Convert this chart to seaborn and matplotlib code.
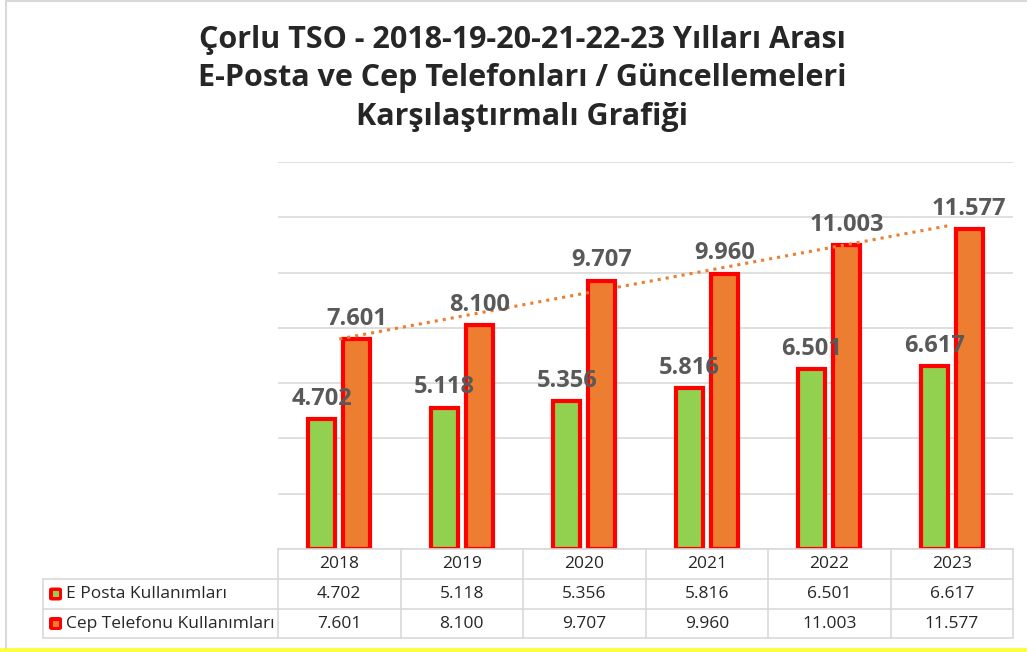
import matplotlib
matplotlib.use("Agg")
import matplotlib.pyplot as plt
import seaborn as sns
import numpy as np
import pandas as pd
from matplotlib.patches import Rectangle, FancyBboxPatch
from matplotlib.lines import Line2D

# ---- data ----
years = ["2018", "2019", "2020", "2021", "2022", "2023"]
eposta = [4702, 5118, 5356, 5816, 6501, 6617]
cep = [7601, 8100, 9707, 9960, 11003, 11577]
series_names = ["E Posta Kullanımları", "Cep Telefonu Kullanımları"]
title_lines = [
    "Çorlu TSO - 2018-19-20-21-22-23 Yılları Arası",
    "E-Posta ve Cep Telefonları / Güncellemeleri",
    "Karşılaştırmalı Grafiği",
]

GREEN = "#92D050"
ORANGE = "#ED7D31"
RED = "#FF0000"
GRID = "#D9D9D9"

W, H = 1027, 652
sns.set_theme(style="white")
plt.rcParams['font.family'] = ['Open Sans', 'DejaVu Sans']

fig = plt.figure(figsize=(W / 100, H / 100), dpi=100)
fig.patch.set_facecolor("white")


def fx(x):
    return x / W


def fy(y):
    return 1 - y / H


def fmt(v):
    return f"{v:,}".replace(",", ".")


X0, X1 = 278, 1013
Y_TOP, Y_BASE = 162, 549
ax = fig.add_axes([fx(X0), fy(Y_BASE), (X1 - X0) / W, (Y_BASE - Y_TOP) / H])

df = pd.DataFrame({
    "Yıl": years * 2,
    "Değer": eposta + cep,
    "Seri": [series_names[0]] * len(years) + [series_names[1]] * len(years),
})
sns.barplot(data=df, x="Yıl", y="Değer", hue="Seri", palette=[GREEN, ORANGE],
            saturation=1, width=0.57, gap=0.23, edgecolor=RED, linewidth=3.0,
            errorbar=None, legend=False, ax=ax, zorder=2)

ax.set_xlim(-0.5, len(years) - 0.5)
ax.set_ylim(0, 14000)
ax.set_yticks(range(0, 14001, 2000))
ax.yaxis.grid(True, color=GRID, lw=1.2)
ax.xaxis.grid(False)
ax.set_axisbelow(True)
for s in ax.spines.values():
    s.set_visible(False)
ax.tick_params(left=False, bottom=False, labelleft=False, labelbottom=False)
ax.set_xlabel("")
ax.set_ylabel("")
ax.set_facecolor("none")

for cont, vals in zip(ax.containers, [eposta, cep]):
    ax.bar_label(cont, labels=[fmt(v) for v in vals], padding=6, fontsize=17,
                 fontweight="bold", color="#595959", zorder=5)

xs = np.arange(len(years))
coef = np.polyfit(xs, cep, 1)
ax.plot([xs[0], xs[-1]], np.polyval(coef, [xs[0], xs[-1]]), ls=":",
        color=ORANGE, lw=2.2, zorder=3)

# ---- title ----
for txt, yy in zip(title_lines, [40, 78, 117]):
    fig.text(fx(522), fy(yy), txt, ha="center", va="center", fontsize=22,
             fontweight="bold", color="#262626")

# ---- data table ----
col_w = (X1 - X0) / len(years)
rows_y = [549, 579, 609, 638]
LX = 43
lines = []
lines.append(Line2D([fx(X0), fx(X1)], [fy(rows_y[0])] * 2))
for yy in rows_y[1:]:
    lines.append(Line2D([fx(LX), fx(X1)], [fy(yy)] * 2))
lines.append(Line2D([fx(LX)] * 2, [fy(rows_y[1]), fy(rows_y[3])]))
for k in range(len(years) + 1):
    xx = X0 + k * col_w
    lines.append(Line2D([fx(xx)] * 2, [fy(rows_y[0]), fy(rows_y[3])]))
for ln in lines:
    ln.set_color(GRID)
    ln.set_linewidth(1.2)
    ln.set_transform(fig.transFigure)
    fig.add_artist(ln)

TCOL = "#262626"
TFS = 12.5
for k, yr in enumerate(years):
    cx = X0 + (k + 0.5) * col_w
    fig.text(fx(cx), fy((rows_y[0] + rows_y[1]) / 2), yr, ha="center",
             va="center", fontsize=TFS, color=TCOL)
    fig.text(fx(cx), fy((rows_y[1] + rows_y[2]) / 2), fmt(eposta[k]),
             ha="center", va="center", fontsize=TFS, color=TCOL)
    fig.text(fx(cx), fy((rows_y[2] + rows_y[3]) / 2), fmt(cep[k]),
             ha="center", va="center", fontsize=TFS, color=TCOL)

for i, (name, col) in enumerate(zip(series_names, [GREEN, ORANGE])):
    ymid = (rows_y[i + 1] + rows_y[i + 2]) / 2
    key = FancyBboxPatch((fx(49), fy(ymid + 6.5)), 13 / W, 13 / H,
                         boxstyle="round,pad=0,rounding_size=0.003",
                         transform=fig.transFigure, facecolor=RED,
                         edgecolor="none")
    fig.add_artist(key)
    inner = Rectangle((fx(52.5), fy(ymid + 3)), 6 / W, 6 / H,
                      transform=fig.transFigure, facecolor=col,
                      edgecolor="none")
    fig.add_artist(inner)
    fig.text(fx(66), fy(ymid), name, ha="left", va="center", fontsize=TFS,
             color=TCOL)

# ---- frame ----
frame = [Line2D([fx(6), fx(6)], [fy(0), fy(648)]),
         Line2D([fx(6), fx(1027)], [fy(0.8), fy(0.8)])]
for ln in frame:
    ln.set_color(GRID)
    ln.set_linewidth(1.5)
    ln.set_transform(fig.transFigure)
    fig.add_artist(ln)
fig.add_artist(Rectangle((0, 0), 1, 4 / H, transform=fig.transFigure,
                         facecolor="#FFFF40", edgecolor="none"))

fig.savefig("out.png", dpi=100)
